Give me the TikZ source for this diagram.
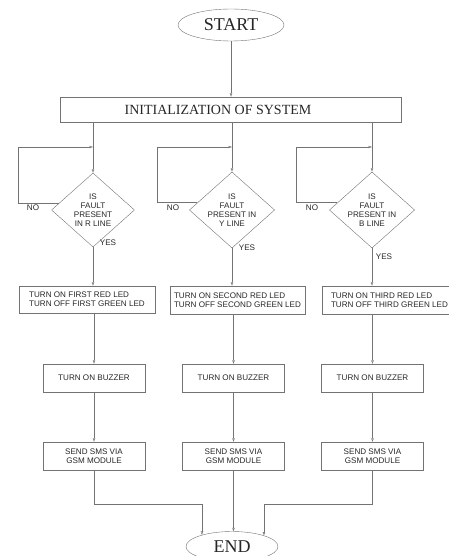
\documentclass[tikz,border=0pt]{standalone}
\usepackage{fontspec}
\setmainfont{Liberation Serif}
\setsansfont{Liberation Sans}
\usetikzlibrary{shapes.geometric,arrows.meta}

\begin{document}
\begin{tikzpicture}[x=1pt,y=-1pt,font=\sffamily\fontsize{8.1}{9}\selectfont,text=black!85]
    \tikzstyle{term} = [draw=black!55, ellipse, inner sep=0pt, font=\rmfamily\fontsize{18}{18}\selectfont]
    \tikzstyle{box} = [draw=black!55, rectangle, align=left, inner sep=0pt]
    \tikzstyle{test} = [draw=black!55, diamond, align=center, inner sep=0pt, shape aspect=1.12, minimum width=83, minimum height=74]
    \tikzstyle{flow} = [draw=black!55, line width=0.5pt, -{Triangle[open,length=3.5pt,width=2.5pt]}]

    \useasboundingbox (0,0) rectangle (449,556);

    % start and init
    \node[term, minimum width=106, minimum height=32] (start) at (231,25) {START};
    \node[box, minimum width=341, minimum height=25,
          label={[font=\rmfamily\fontsize{14}{14}\selectfont, xshift=-12.5pt]center:INITIALIZATION OF SYSTEM}] (init) at (230.5,109.5) {};

    % tests
    \node[test] (d1) at (93,210) {IS\\FAULT\\PRESENT\\IN R LINE};
    \node[test] (d2) at (232,210) {IS\\FAULT\\PRESENT IN\\Y LINE};
    \node[test] (d3) at (372,210) {IS\\FAULT\\PRESENT IN\\B LINE};

    % led boxes
    \node[box, minimum width=136, minimum height=27] (led1) at (87,299.5) {TURN ON FIRST RED LED\\TURN OFF FIRST GREEN LED};
    \node[box, minimum width=135, minimum height=28] (led2) at (237.5,300) {TURN ON SECOND RED LED\\TURN OFF SECOND GREEN LED};
    \node[box, minimum width=135, minimum height=28] (led3) at (389.5,300) {TURN ON THIRD RED LED\\TURN OFF THIRD GREEN LED};

    % buzzer boxes
    \node[box, minimum width=102, minimum height=28] (buz1) at (94,378) {TURN ON BUZZER};
    \node[box, minimum width=102, minimum height=28] (buz2) at (233.5,378) {TURN ON BUZZER};
    \node[box, minimum width=102, minimum height=28] (buz3) at (372.5,378) {TURN ON BUZZER};

    % sms boxes
    \node[box, align=center, minimum width=102, minimum height=28] (sms1) at (94,456) {SEND SMS VIA\\GSM MODULE};
    \node[box, align=center, minimum width=102, minimum height=28] (sms2) at (233.5,456) {SEND SMS VIA\\GSM MODULE};
    \node[box, align=center, minimum width=102, minimum height=28] (sms3) at (372.5,456) {SEND SMS VIA\\GSM MODULE};

    % end
    \node[term, minimum width=92, minimum height=30] (end) at (232,546.5) {END};

    % loop joints
    \coordinate (j1) at (93,147);
    \coordinate (j2) at (232,147);
    \coordinate (j3) at (372,147);
    \coordinate (l1) at (18,147);
    \coordinate (l2) at (157,147);
    \coordinate (l3) at (296,147);

    % start to tests
    \draw[flow] (start) -- (start |- init.north);
    \draw[flow] (d1.north |- init.south) -- (d1.north);
    \draw[flow] (d2.north |- init.south) -- (d2.north);
    \draw[flow] (d3.north |- init.south) -- (d3.north);

    % no loops
    \draw[flow] (d1.168) -| (l1) -- (j1);
    \draw[flow] (d2.168) -| (l2) -- (j2);
    \draw[flow] (d3.168) -| (l3) -- (j3);
    \node at (33,208) {NO};
    \node at (173,208) {NO};
    \node at (312,208) {NO};

    % yes branches
    \draw[flow] (d1.south) -- (d1.south |- led1.north);
    \draw[flow] (d2.south) -- (d2.south |- led2.north);
    \draw[flow] (d3.south) -- (d3.south |- led3.north);
    \node at (108,243) {YES};
    \node at (247,248) {YES};
    \node at (384,257) {YES};

    % led to buzzer to sms
    \draw[flow] (buz1.north |- led1.south) -- (buz1.north);
    \draw[flow] (buz2.north |- led2.south) -- (buz2.north);
    \draw[flow] (buz3.north |- led3.south) -- (buz3.north);
    \draw[flow] (buz1) -- (sms1);
    \draw[flow] (buz2) -- (sms2);
    \draw[flow] (buz3) -- (sms3);

    % sms to end
    \draw[flow] (sms1.south) -- ++(0,34) -| (end.159);
    \draw[flow] (sms2.south) -- (sms2.south |- end.north);
    \draw[flow] (sms3.south) -- ++(0,34) -| (end.19);
\end{tikzpicture}
\end{document}
